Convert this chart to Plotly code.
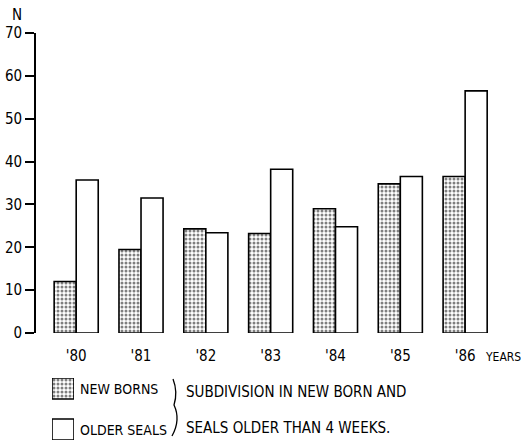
import plotly.graph_objects as go

years = ["'80", "'81", "'82", "'83", "'84", "'85", "'86"]
new_borns = [12, 19.5, 24.3, 23.2, 29, 34.8, 36.5]
older_seals = [35.7, 31.5, 23.4, 38.2, 24.8, 36.5, 56.5]
y_ticks = [0, 10, 20, 30, 40, 50, 60, 70]
legend_labels = ["NEW BORNS", "OLDER SEALS"]
note_lines = ["SUBDIVISION IN NEW BORN AND", "SEALS OLDER THAN 4 WEEKS."]

W, H = 521, 440
FONT = "DejaVu Sans Condensed"

def px(x):
    return x / W

def py(y):
    return 1 - y / H

xpos = list(range(len(years)))

dots = dict(shape=".", fgcolor="black", bgcolor="white", size=4, solidity=0.45)

fig = go.Figure()
fig.add_trace(go.Bar(
    x=xpos, y=new_borns, name=legend_labels[0],
    marker=dict(color="white", line=dict(color="black", width=1.6), pattern=dots),
    showlegend=False,
))
fig.add_trace(go.Bar(
    x=xpos, y=older_seals, name=legend_labels[1],
    marker=dict(color="white", line=dict(color="black", width=1.6)),
    showlegend=False,
))

# legend swatches on a separate small axis
fig.add_trace(go.Bar(
    x=[1], y=[0], orientation="h", width=0.512, xaxis="x2", yaxis="y2",
    marker=dict(color="white", line=dict(color="black", width=1.6), pattern=dots),
    showlegend=False, hoverinfo="skip",
))
fig.add_trace(go.Bar(
    x=[1], y=[1], orientation="h", width=0.512, xaxis="x2", yaxis="y2",
    marker=dict(color="white", line=dict(color="black", width=1.6)),
    showlegend=False, hoverinfo="skip",
))

fig.update_layout(
    width=W, height=H,
    margin=dict(l=0, r=0, t=0, b=0, autoexpand=False),
    paper_bgcolor="white", plot_bgcolor="white",
    font=dict(family=FONT, size=15, color="black"),
    barmode="group", bargap=0.32, bargroupgap=0,
    xaxis=dict(
        domain=[px(36), px(517)], range=[-0.62, 6.8],
        tickvals=xpos, ticktext=years, automargin=False,
        showline=False, showgrid=False, zeroline=False,
        ticks="", ticklabelstandoff=12,
        tickfont=dict(size=15),
    ),
    yaxis=dict(
        domain=[1 - 333 / H, 1 - 33 / H], range=[0, 70],
        tickvals=y_ticks, automargin=False,
        showline=True, linecolor="black", linewidth=1.6,
        ticks="outside", ticklen=9, tickwidth=1.6, tickcolor="black",
        showgrid=False, zeroline=False,
        tickfont=dict(size=15),
    ),
    xaxis2=dict(domain=[px(52), px(74)], range=[0, 1], visible=False,
                anchor="y2", automargin=False),
    yaxis2=dict(domain=[0, 62 / H], range=[1.256, -0.256], visible=False,
                anchor="x2", automargin=False),
)

annotations = [
    dict(x=px(17), y=py(15), text="N", showarrow=False,
         xanchor="center", yanchor="middle", font=dict(size=15)),
    dict(x=px(483), y=py(357), text="YEARS", showarrow=False,
         xanchor="left", yanchor="middle", font=dict(size=12)),
    dict(x=px(78), y=py(389), text=legend_labels[0], showarrow=False,
         xanchor="left", yanchor="middle", font=dict(size=14)),
    dict(x=px(78), y=py(430), text=legend_labels[1], showarrow=False,
         xanchor="left", yanchor="middle", font=dict(size=14)),
    dict(x=px(184), y=py(392), text=note_lines[0], showarrow=False,
         xanchor="left", yanchor="middle", font=dict(size=15)),
    dict(x=px(184), y=py(428), text=note_lines[1], showarrow=False,
         xanchor="left", yanchor="middle", font=dict(size=15)),
]
for a in annotations:
    a["xref"] = "paper"
    a["yref"] = "paper"
fig.update_layout(annotations=annotations)

brace = "M {:.4f},{:.4f} Q {:.4f},{:.4f} {:.4f},{:.4f} Q {:.4f},{:.4f} {:.4f},{:.4f}".format(
    px(173), py(379), px(178), py(392), px(174), py(405),
    px(181), py(420), px(172), py(436))
fig.add_shape(type="path", path=brace, xref="paper", yref="paper",
              line=dict(color="black", width=1.3))

fig.write_html(
    "out.html",
    config={"displayModeBar": False},
    post_script="document.body.style.margin='0px';document.body.style.padding='0px';",
)
